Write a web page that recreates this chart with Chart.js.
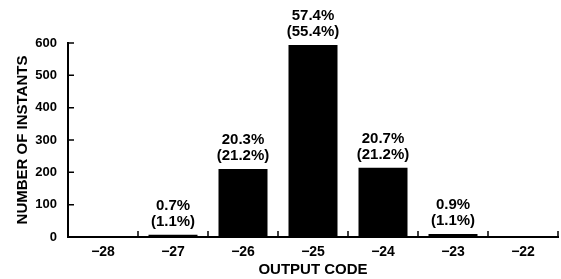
<!DOCTYPE html>
<html>
<head>
<meta charset="utf-8">
<script src="https://cdn.jsdelivr.net/npm/chart.js@4"></script>
<style>
  html, body { margin: 0; padding: 0; background: #fff; }
</style>
</head>
<body>
<canvas id="histChart" width="561" height="279"></canvas>
<script>
// output codes and how many instants landed on each
const codes = ['\u221228', '\u221227', '\u221226', '\u221225', '\u221224', '\u221223', '\u221222'];
const instants = [null, 7, 210, 594, 214, 9, null];
// measured share (top line) and expected share (bracketed line)
const measuredPct = ['', '0.7%', '20.3%', '57.4%', '20.7%', '0.9%', ''];
const expectedPct = ['', '(1.1%)', '(21.2%)', '(55.4%)', '(21.2%)', '(1.1%)', ''];
const yTicks = [0, 100, 200, 300, 400, 500, 600];

const FONT = '"Liberation Sans", Arial, sans-serif';

// labels above each bar + short inward tick marks on both axes
const barLabels = {
  id: 'barLabels',
  afterDatasetsDraw(chart) {
    const ctx = chart.ctx;
    const meta = chart.getDatasetMeta(0);
    ctx.save();
    ctx.fillStyle = '#000';
    ctx.font = 'bold 15px ' + FONT;
    ctx.textAlign = 'center';
    ctx.textBaseline = 'alphabetic';
    meta.data.forEach((bar, i) => {
      if (instants[i] == null) return;
      ctx.fillText(expectedPct[i], bar.x, bar.y - 9);
      ctx.fillText(measuredPct[i], bar.x, bar.y - 25);
    });

    const x = chart.scales.x, y = chart.scales.y;
    const area = chart.chartArea;
    ctx.strokeStyle = '#000';
    ctx.lineWidth = 1.5;
    ctx.beginPath();
    yTicks.forEach(v => {
      if (v === 0) return;
      const py = y.getPixelForValue(v);
      ctx.moveTo(area.left, py);
      ctx.lineTo(area.left + 6, py);
    });
    const step = (area.right - area.left) / codes.length;
    for (let i = 1; i <= codes.length; i++) {
      const px = area.left + i * step;
      ctx.moveTo(px, area.bottom);
      ctx.lineTo(px, area.bottom - 6);
    }
    ctx.stroke();
    ctx.restore();
  }
};

new Chart(document.getElementById('histChart'), {
  type: 'bar',
  data: {
    labels: codes,
    datasets: [{
      data: instants,
      backgroundColor: '#000',
      borderWidth: 0,
      barPercentage: 0.7,
      categoryPercentage: 1
    }]
  },
  options: {
    responsive: false,
    animation: false,
    devicePixelRatio: 1,
    layout: { padding: { top: 43, right: 3, left: 0, bottom: 0 } },
    plugins: { legend: { display: false }, tooltip: { enabled: false } },
    scales: {
      x: {
        grid: { display: false, drawTicks: false },
        border: { display: true, color: '#000', width: 2 },
        ticks: { color: '#000', padding: 7, font: { family: FONT, size: 14, weight: 'bold' } },
        title: {
          display: true, text: 'OUTPUT CODE', color: '#000',
          font: { family: FONT, size: 15, weight: 'bold', lineHeight: 1.2 },
          padding: { top: 0, bottom: 0 }
        },
        afterFit(scale) { scale.height = 42; }
      },
      y: {
        min: 0, max: 600,
        grid: { display: false, drawTicks: false },
        border: { display: true, color: '#000', width: 2 },
        ticks: { stepSize: 100, color: '#000', padding: 11, font: { family: FONT, size: 13, weight: 'bold' } },
        title: {
          display: true, text: 'NUMBER OF INSTANTS', color: '#000',
          font: { family: FONT, size: 15, weight: 'bold', lineHeight: 1.2 },
          padding: { top: 14, bottom: 0 }
        },
        afterFit(scale) { scale.width = 68; }
      }
    }
  },
  plugins: [barLabels]
});
</script>
</body>
</html>
